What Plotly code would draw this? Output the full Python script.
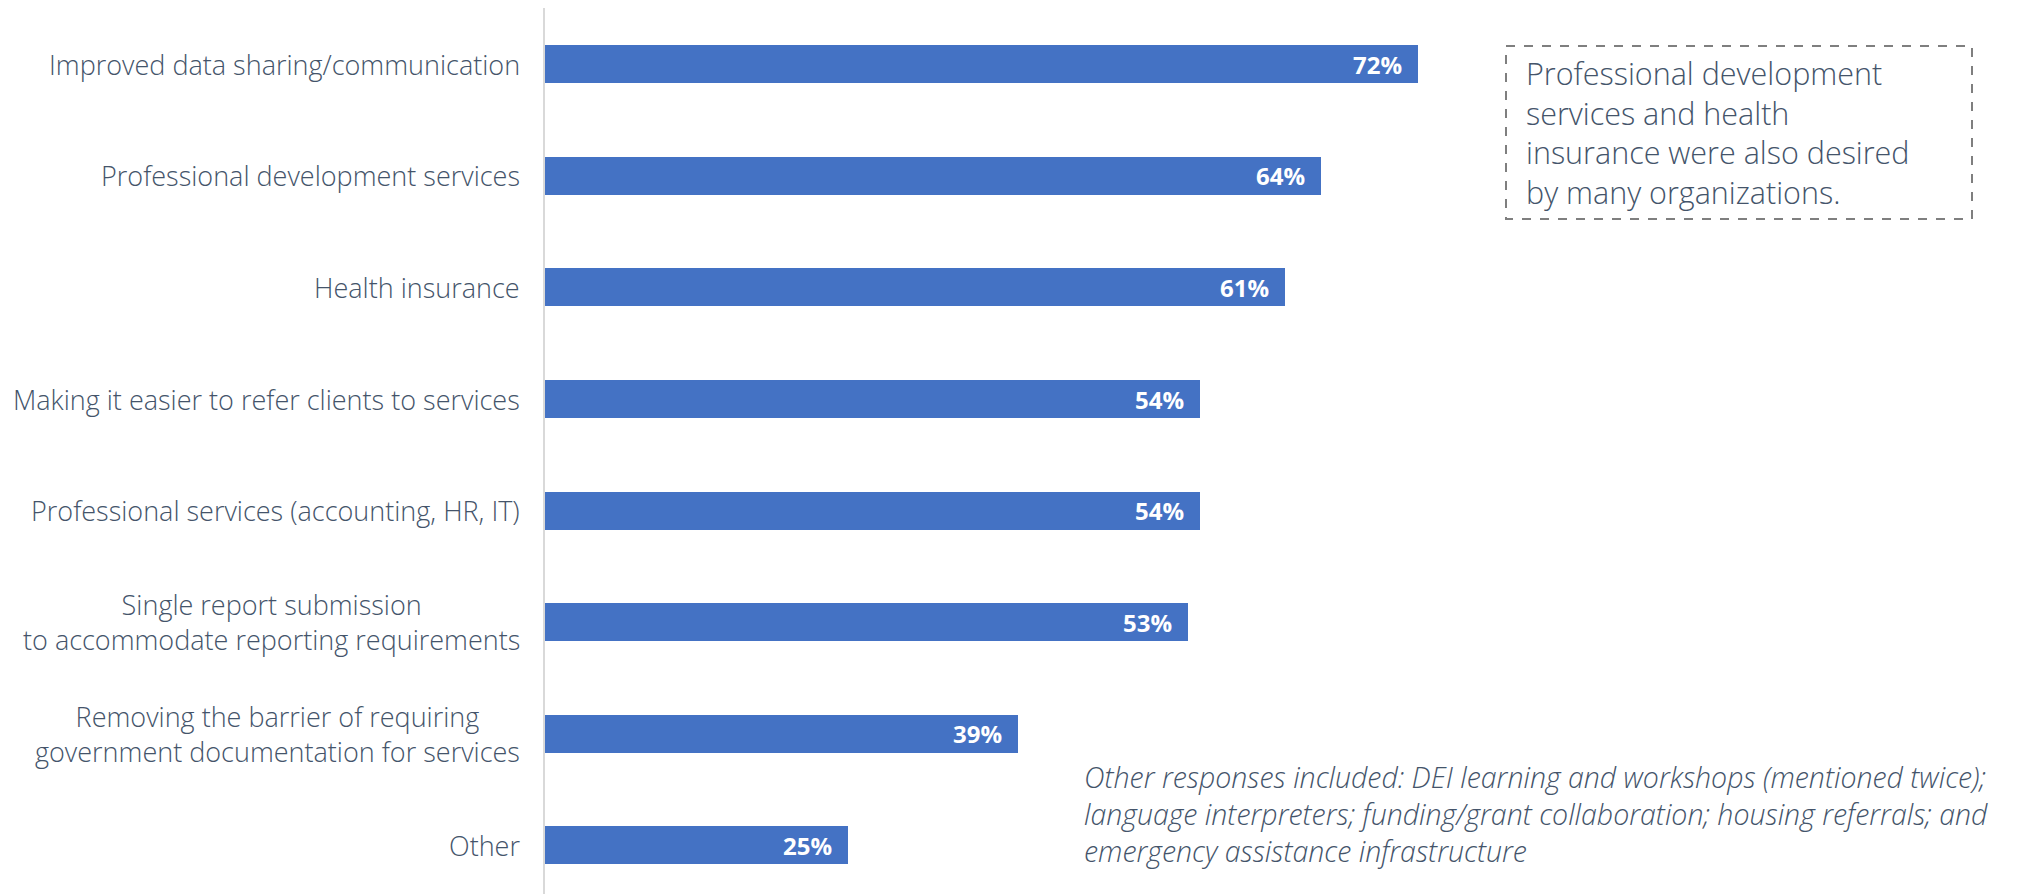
import plotly.graph_objects as go

# Survey: services organizations would like to see
categories = [
    "Improved data sharing/communication",
    "Professional development services",
    "Health insurance",
    "Making it easier to refer clients to services",
    "Professional services (accounting, HR, IT)",
    "Single report submission<br>to accommodate reporting requirements",
    "Removing the barrier of requiring<br>government documentation for services",
    "Other",
]
percent = [72, 64, 61, 54, 54, 53, 39, 25]

callout_lines = [
    "Professional development",
    "services and health",
    "insurance were also desired",
    "by many organizations.",
]
footnote_lines = [
    "Other responses included: DEI learning and workshops (mentioned twice);",
    "language interpreters; funding/grant collaboration; housing referrals; and",
    "emergency assistance infrastructure",
]

W, H = 2036, 894
ML, MR, MT, MB = 545, 0, 8, 0
PW, PH = W - ML - MR, H - MT - MB
PX_PER_PCT = 12.13

BAR = "#4472C4"
TEXT = "#44546A"
FONT = "Open Sans"

def px_x(px):
    return (px - ML) / PW

def px_y(py):
    return 1 - (py - MT) / PH

fig = go.Figure(go.Bar(
    y=list(range(len(categories))),
    x=percent,
    orientation="h",
    width=0.34,
    marker=dict(color=BAR, line=dict(width=0)),
    hoverinfo="skip",
))

annotations = []
# category labels (centered multi-line, right edge near axis)
for i, cat in enumerate(categories):
    annotations.append(dict(
        x=px_x(522), xref="paper", y=i, yref="y",
        text=cat, showarrow=False, xanchor="right", yanchor="middle",
        align="center", font=dict(family=FONT, size=27, color=TEXT, weight=300),
    ))
# value labels inside the bar ends
for i, v in enumerate(percent):
    annotations.append(dict(
        x=v, xref="x", y=i, yref="y", text=f"<b>{v}%</b>",
        showarrow=False, xanchor="right", yanchor="middle", xshift=-14,
        font=dict(family=FONT, size=24, color="white"),
    ))
# callout text inside the dashed box
annotations.append(dict(
    x=px_x(1524), xref="paper", y=px_y(132), yref="paper",
    text="<br>".join(callout_lines), showarrow=False,
    xanchor="left", yanchor="middle", align="left",
    font=dict(family=FONT, size=30.5, color=TEXT, weight=300),
))
# footnote
annotations.append(dict(
    x=px_x(1082), xref="paper", y=px_y(814), yref="paper",
    text="<i>" + "<br>".join(footnote_lines) + "</i>", showarrow=False,
    xanchor="left", yanchor="middle", align="left",
    font=dict(family=FONT, size=28.5, color=TEXT, weight=300),
))

fig.update_layout(
    width=W, height=H,
    margin=dict(l=ML, r=MR, t=MT, b=MB),
    paper_bgcolor="white", plot_bgcolor="white",
    showlegend=False,
    bargap=0,
    xaxis=dict(range=[0, PW / PX_PER_PCT], visible=False, fixedrange=True),
    yaxis=dict(range=[7.435, -0.504], showticklabels=False, showgrid=False,
               zeroline=False, showline=True, linecolor="#D9D9D9", linewidth=2,
               ticks="", fixedrange=True),
    annotations=annotations,
    shapes=[dict(
        type="rect", xref="paper", yref="paper",
        x0=px_x(1506), x1=px_x(1972), y0=px_y(46), y1=px_y(219),
        line=dict(color="#7F7F7F", width=2, dash="dash"),
        fillcolor="rgba(0,0,0,0)",
    )],
)

fig.write_html("out.html", config={"displayModeBar": False})
